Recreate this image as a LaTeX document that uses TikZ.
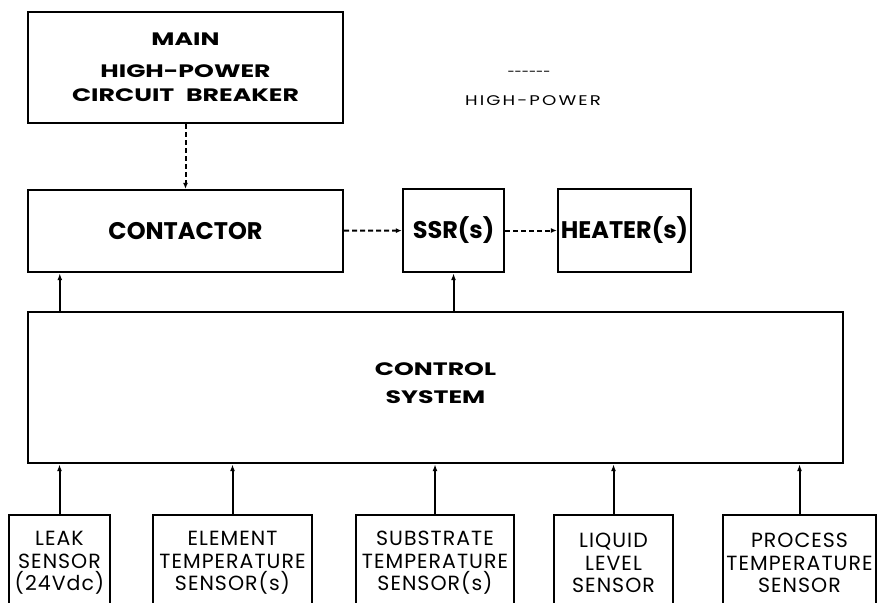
\documentclass[tikz,border=0pt]{standalone}
\usepackage{fontspec}
\setmainfont{Poppins}
\newfontfamily\headfont[FakeStretch=1.4, WordSpace=2.2]{Poppins}
\newfontfamily\sensfont[LetterSpace=5]{Poppins}
\newfontfamily\legfont[FakeStretch=1.3, LetterSpace=15]{Poppins}
\usetikzlibrary{arrows.meta,positioning}

\begin{document}
\begin{tikzpicture}[
    x=1pt, y=-1pt,
    box/.style={draw, line width=2.4pt, inner sep=0pt, align=center},
    head/.style={box, font=\headfont\bfseries\fontsize{18}{24}\selectfont},
    big/.style={box, font=\bfseries\fontsize{24}{28}\selectfont},
    sens/.style={box, line width=2pt, minimum height=96, font=\sensfont\fontsize{20.5}{22.5}\selectfont},
    arr/.style={-{Latex[length=7pt,width=5pt]}, line width=2pt},
    hp/.style={-{Latex[open,length=6pt,width=5pt]}, line width=2pt, dash pattern=on 5pt off 3pt}
]
\useasboundingbox (0,0) rectangle (880,602);
\clip (0,0) rectangle (880,602);

\node[head, minimum width=315, minimum height=111] (breaker) at (185.5,67.5) {MAIN\\[8pt]HIGH-POWER\\CIRCUIT BREAKER};
\node[big, minimum width=315, minimum height=82] (contactor) at (185.5,231) {CONTACTOR};
\node[big, minimum width=101, minimum height=83] (ssr) at (453.5,230.5) {SSR(s)};
\node[big, minimum width=133, minimum height=83] (heater) at (624.5,230.5) {HEATER(s)};
\node[head, minimum width=815, minimum height=151, font=\headfont\bfseries\fontsize{18}{28}\selectfont] (ctrl) at (435.5,387.5) {CONTROL\\SYSTEM\rule[-8pt]{0pt}{0pt}};

\node[font=\fontsize{13}{15}\selectfont] (legdash) at (529,74) {-{}-{}-{}-{}-{}-};
\node[font=\legfont\fontsize{14}{15}\selectfont] (legtext) at (533,101) {HIGH-POWER};

\node[sens, minimum width=101] (leak) at (59.5,563) {LEAK\\SENSOR\\(24Vdc)};
\node[sens, minimum width=159] (elem) at (232.5,563) {ELEMENT\\TEMPERATURE\\SENSOR(s)};
\node[sens, minimum width=158] (subs) at (435,563) {SUBSTRATE\\TEMPERATURE\\SENSOR(s)};
\node[sens, minimum width=119] (level) at (613.5,563) {LIQUID\\LEVEL\\SENSOR};
\node[sens, minimum width=153] (proc) at (799.5,563) {PROCESS\\TEMPERATURE\\SENSOR};

\draw[hp] (breaker) -- (contactor);
\draw[hp] (contactor) -- (ssr);
\draw[hp] (ssr) -- (heater);

\coordinate (cin) at ([xshift=33pt]contactor.south west);
\draw[arr] (cin |- ctrl.north) -- (cin);
\draw[arr] (ctrl.north -| ssr.south) -- (ssr.south);

\foreach \s in {leak,elem,subs,level,proc}
  \draw[arr] (\s.north) -- (\s.north |- ctrl.south);
\end{tikzpicture}
\end{document}
